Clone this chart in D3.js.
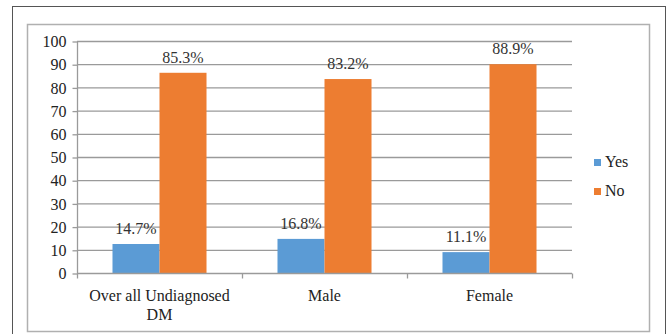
<!DOCTYPE html>
<html><head><meta charset="utf-8">
<script src="https://cdn.jsdelivr.net/npm/d3@7/dist/d3.min.js"></script>
<style>body{margin:0;background:#fff}svg{display:block}</style>
</head><body>
<script>
const categories = ["Over all Undiagnosed|DM", "Male", "Female"];
const series = ["Yes", "No"];
const yesValues = [12.5, 14.7, 9.0];
const noValues = [86.3, 83.6, 90.0];
const yesLabels = ["14.7%", "16.8%", "11.1%"];
const noLabels = ["85.3%", "83.2%", "88.9%"];
const yTicks = [0, 10, 20, 30, 40, 50, 60, 70, 80, 90, 100];
const colors = {Yes: "#5B9BD5", No: "#ED7D31"};

const W = 667, H = 334;
const svg = d3.select("body").append("svg").attr("width", W).attr("height", H);
const font = "Liberation Serif, DejaVu Serif, Times New Roman, serif";

// frames
svg.append("rect").attr("x", 12.5).attr("y", 6.5).attr("width", 653).attr("height", 340)
  .attr("fill", "none").attr("stroke", "#555").attr("stroke-width", 1);
svg.append("rect").attr("x", 27.5).attr("y", 24.5).attr("width", 622).attr("height", 307)
  .attr("fill", "none").attr("stroke", "#b0b0b0").attr("stroke-width", 1.5);

const x0 = d3.scaleBand().domain(categories).range([77, 572]).padding(0);
const x1 = d3.scaleBand().domain(series).range([0, x0.bandwidth()]).paddingInner(0).paddingOuter(0.755);
const y = d3.scaleLinear().domain([0, 100]).range([273, 41]);

// gridlines
svg.append("g").selectAll("line").data(yTicks.filter(d => d > 0)).join("line")
  .attr("x1", 77).attr("x2", 572).attr("y1", d => y(d) + 0.5).attr("y2", d => y(d) + 0.5)
  .attr("stroke", "#9a9a9a").attr("stroke-width", 1.3);

// y axis
const yAxis = d3.axisLeft(y).tickValues(yTicks).tickSize(5).tickPadding(6);
const gy = svg.append("g").attr("transform", "translate(77.5,0.5)").call(yAxis);
gy.attr("font-family", null).attr("font-size", null);
gy.select(".domain").attr("stroke", "#9a9a9a").attr("stroke-width", 1.3).attr("d", `M0,${y(100)}V${y(0)}`);
gy.selectAll(".tick line").attr("stroke", "#9a9a9a").attr("stroke-width", 1.3);
gy.selectAll(".tick text").style("font-family", font).style("font-size", "16px").attr("fill", "#222");

// bars
const data = categories.map((c, i) => ({c, i, vals: [
  {s: "Yes", v: yesValues[i], lab: yesLabels[i]},
  {s: "No", v: noValues[i], lab: noLabels[i]}]}));
const groups = svg.append("g").selectAll("g").data(data).join("g")
  .attr("transform", d => `translate(${x0(d.c)},0)`);
groups.selectAll("rect").data(d => d.vals).join("rect")
  .attr("x", d => x1(d.s)).attr("width", x1.bandwidth())
  .attr("y", d => y(d.v)).attr("height", d => y(0) - y(d.v))
  .attr("fill", d => colors[d.s]);
groups.selectAll("text").data(d => d.vals).join("text")
  .attr("x", d => x1(d.s) + x1.bandwidth() / 2).attr("y", d => y(d.v) - 10)
  .attr("text-anchor", "middle").style("font-family", font).style("font-size", "16px").attr("fill", "#333")
  .text(d => d.lab);

// x axis
const gx = svg.append("g").attr("transform", `translate(0,${y(0) + 0.5})`);
gx.append("line").attr("x1", 77).attr("x2", 572).attr("stroke", "#9a9a9a").attr("stroke-width", 1.3);
const bounds = categories.map(c => x0(c)).concat([572]);
gx.selectAll(".tk").data(bounds).join("line").attr("class", "tk")
  .attr("x1", d => d + 0.5).attr("x2", d => d + 0.5).attr("y1", 0).attr("y2", 5)
  .attr("stroke", "#9a9a9a").attr("stroke-width", 1.3);
const xl = gx.selectAll(".xl").data(categories).join("text").attr("class", "xl")
  .attr("x", d => x0(d) + x0.bandwidth() / 2).attr("y", 27)
  .attr("text-anchor", "middle").style("font-family", font).style("font-size", "16px").attr("fill", "#222");
xl.each(function(d) {
  const parts = d.split("|");
  d3.select(this).selectAll("tspan").data(parts).join("tspan")
    .attr("x", x0(d) + x0.bandwidth() / 2).attr("dy", (p, i) => i === 0 ? 0 : 19).text(p => p);
});

// legend
const lg = svg.append("g").selectAll("g").data(series).join("g")
  .attr("transform", (d, i) => `translate(594,${159 + i * 29})`);
lg.append("rect").attr("width", 7).attr("height", 7).attr("fill", d => colors[d]);
lg.append("text").attr("x", 11).attr("y", 8).style("font-family", font).style("font-size", "16px")
  .attr("fill", "#222").text(d => d);
</script>
</body></html>
